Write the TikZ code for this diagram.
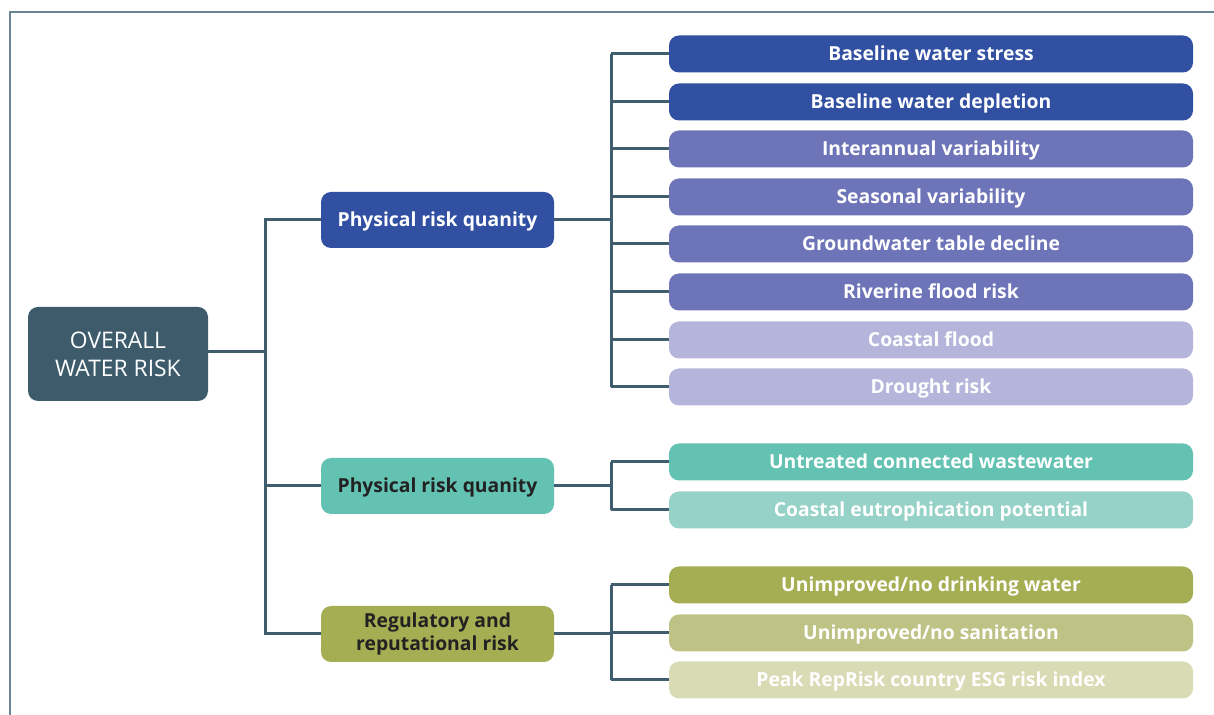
\documentclass[tikz,border=0pt]{standalone}
\usepackage{fontspec}
\setmainfont{Open Sans}
\usetikzlibrary{positioning}

\definecolor{lineblue}{HTML}{3F5D6D}
\definecolor{framegray}{HTML}{6B8593}
\definecolor{rootcol}{HTML}{3D5B6B}
\definecolor{darkblue}{HTML}{3150A2}
\definecolor{midpurple}{HTML}{6E74B8}
\definecolor{lightpurple}{HTML}{B5B5DC}
\definecolor{teal}{HTML}{64C2B2}
\definecolor{lightteal}{HTML}{96D2C8}
\definecolor{olive}{HTML}{A5AE52}
\definecolor{midolive}{HTML}{BEC385}
\definecolor{lightolive}{HTML}{D9DBB5}
\definecolor{darktext}{HTML}{222222}

\def\pxu{0.02cm}

\tikzset{
  conn/.style={draw=lineblue, line width=3*\pxu},
  box/.style={rounded corners=10*\pxu, inner sep=0pt, align=center},
  oneline/.style={text height=7.5pt, text depth=0pt},
  rootbox/.style={box, fill=rootcol, text=white, minimum width=180*\pxu,
    minimum height=94*\pxu, font=\fontsize{13}{16}\selectfont},
  midbox/.style={box, minimum width=233*\pxu, minimum height=56*\pxu,
    font=\fontsize{11}{13}\selectfont\bfseries},
  leaf/.style={box, oneline, text=white, minimum width=524*\pxu, minimum height=37*\pxu,
    font=\fontsize{11}{13}\selectfont\bfseries},
}

\begin{document}
\begin{tikzpicture}[x=\pxu, y=-\pxu]
\useasboundingbox (0,0) rectangle (1214,715);

% cadre
\draw[framegray, line width=2*\pxu] (10,715) -- (10,12) -- (1214,12);

% racine et branches
\node[rootbox] (root) at (118,354) {OVERALL\\WATER RISK};
\node[midbox, oneline, fill=darkblue, text=white] (m1) at (437.5,220) {Physical risk quanity};
\node[midbox, oneline, fill=teal, text=darktext] (m2) at (437.5,486) {Physical risk quanity};
\node[midbox, fill=olive, text=darktext] (m3) at (437.5,634) {Regulatory and\\reputational risk};

% feuilles
\node[leaf, fill=darkblue] (a1) at (931,54) {Baseline water stress};
\node[leaf, fill=darkblue] (a2) at (931,102) {Baseline water depletion};
\node[leaf, fill=midpurple] (a3) at (931,149) {Interannual variability};
\node[leaf, fill=midpurple] (a4) at (931,197) {Seasonal variability};
\node[leaf, fill=midpurple] (a5) at (931,244) {Groundwater table decline};
\node[leaf, fill=midpurple] (a6) at (931,292) {Riverine flood risk};
\node[leaf, fill=lightpurple] (a7) at (931,340) {Coastal flood};
\node[leaf, fill=lightpurple] (a8) at (931,387) {Drought risk};

\node[leaf, fill=teal] (b1) at (931,462) {Untreated connected wastewater};
\node[leaf, fill=lightteal] (b2) at (931,510) {Coastal eutrophication potential};

\node[leaf, fill=olive] (c1) at (931,585) {Unimproved/no drinking water};
\node[leaf, fill=midolive] (c2) at (931,633) {Unimproved/no sanitation};
\node[leaf, fill=lightolive] (c3) at (931,680) {Peak RepRisk country ESG risk index};

% troncs
\coordinate (t0) at (265,352);
\coordinate (t1) at (611,220);
\coordinate (t2) at (611,486);
\coordinate (t3) at (611,634);

\draw[conn] (root.east |- t0) -- (t0);
\draw[conn] (m1.west) -- (m1.west -| t0) -- (m3.west -| t0) -- (m3.west);
\draw[conn] (m2.west) -- (m2.west -| t0);

\draw[conn] (m1.east) -- (t1);
\draw[conn] (a1.west -| t1) -- (a8.west -| t1);
\foreach \i in {1,...,8} {
  \draw[conn] (a\i.west) -- (a\i.west -| t1);
}

\draw[conn] (m2.east) -- (t2);
\draw[conn] (b1.west -| t2) -- (b2.west -| t2);
\foreach \i in {1,2} {
  \draw[conn] (b\i.west) -- (b\i.west -| t2);
}

\draw[conn] (m3.east) -- (t3);
\draw[conn] (c1.west -| t3) -- (c3.west -| t3);
\foreach \i in {1,2,3} {
  \draw[conn] (c\i.west) -- (c\i.west -| t3);
}
\end{tikzpicture}
\end{document}
